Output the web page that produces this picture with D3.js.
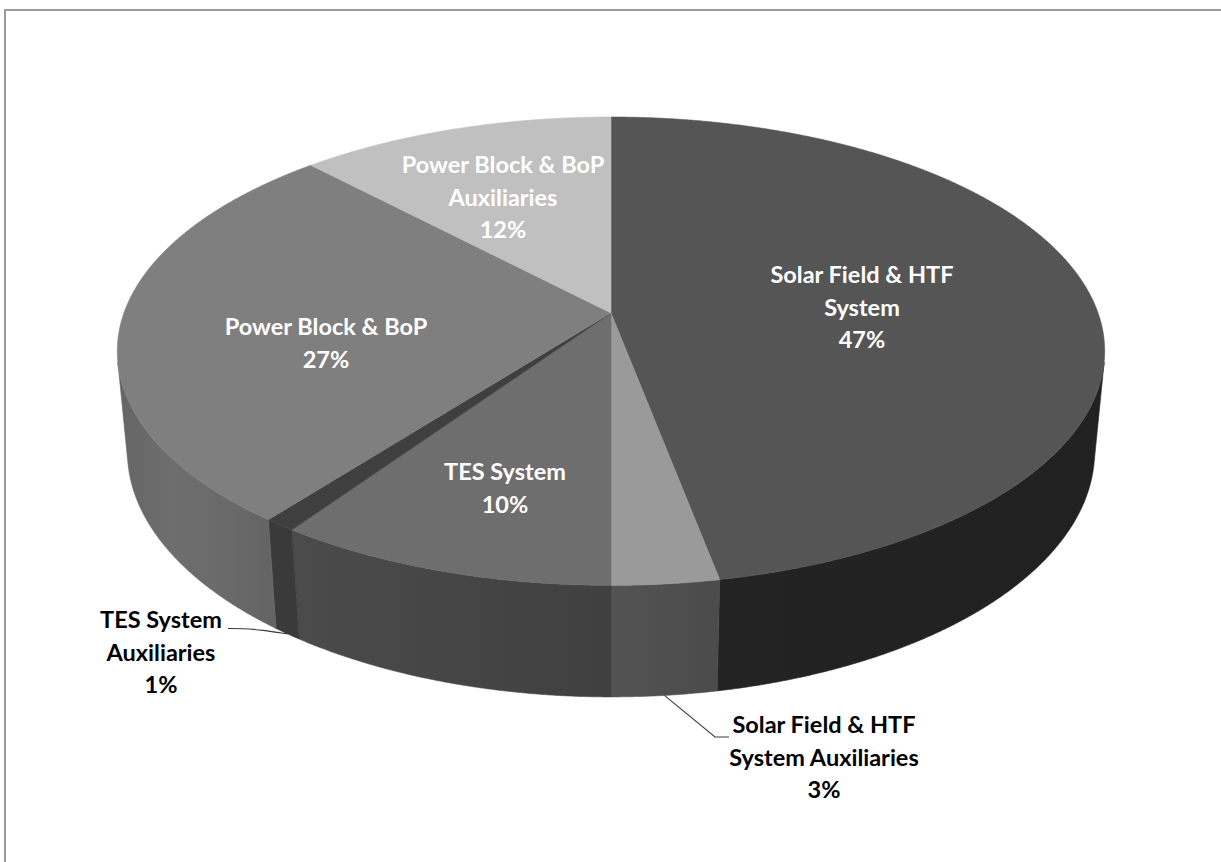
<!DOCTYPE html>
<html>
<head>
<meta charset="utf-8">
<script src="https://cdn.jsdelivr.net/npm/d3@7"></script>
<style>
  html, body { margin: 0; padding: 0; background: #fff; }
  svg { display: block; }
</style>
</head>
<body>
<script>
// ---------- data ----------
const categories = [
  "Solar Field & HTF System",
  "Solar Field & HTF System Auxiliaries",
  "TES System",
  "TES System Auxiliaries",
  "Power Block & BoP",
  "Power Block & BoP Auxiliaries"
];
const shares = [47.0, 3.0, 9.6, 0.9, 27.4, 12.1];
const percentLabels = ["47%", "3%", "10%", "1%", "27%", "12%"];
const labelLines = [
  ["Solar Field & HTF", "System"],
  ["Solar Field & HTF", "System Auxiliaries"],
  ["TES System"],
  ["TES System", "Auxiliaries"],
  ["Power Block & BoP"],
  ["Power Block & BoP", "Auxiliaries"]
];

// ---------- styles / layout ----------
const topColors = ["#555555", "#9a9a9a", "#6e6e6e", "#3f3f3f", "#7f7f7f", "#c0c0c0"];
const wallStops = [
  ["#232323", "#212121"],
  ["#535353", "#4b4b4b"],
  ["#4b4b4b", "#404040"],
  ["#3a3a3a", "#3a3a3a"],
  ["#656565", "#6e6e6e", "#6a6a6a", "#636363"],
  ["#8a8a8a", "#8a8a8a"]
];
const labelInside = [true, false, true, false, true, true];
// label first-line centre positions (layout)
const labelPos = [
  [862, 275], [824, 725], [505, 472], [161, 620], [326, 327], [503, 165]
];
const lineGap = 32.5;

const W = 1221, H = 862;
const svg = d3.select("body").append("svg").attr("width", W).attr("height", H);
const defs = svg.append("defs");

// frame (only top and left visible in the reference)
svg.append("rect").attr("x", 5).attr("y", 10).attr("width", 1240).attr("height", 900)
  .attr("fill", "none").attr("stroke", "#9a9a9a").attr("stroke-width", 2);

// ---------- 3D perspective projection ----------
const cam = { cx: 611, cy: 313, F: 2640, D: 5.42, sinE: 0.468, depth: 0.235 };
cam.cosE = Math.sqrt(1 - cam.sinE * cam.sinE);
function project(theta, r, level) {
  const X = r * Math.sin(theta), Z = -r * Math.cos(theta), Y = level;
  const dz = cam.D - Y * cam.sinE - Z * cam.cosE;
  return [cam.cx + cam.F * X / dz, cam.cy + cam.F * (Z * cam.sinE - Y * cam.cosE) / dz];
}

const pie = d3.pie().sort(null).value(d => d).startAngle(0).endAngle(2 * Math.PI);
const arcs = pie(shares);
const line = d3.line();
const step = Math.PI / 720;
function range(a0, a1) {
  const n = Math.max(2, Math.ceil((a1 - a0) / step));
  return d3.range(n + 1).map(i => a0 + (a1 - a0) * i / n);
}

// visible part of the outer wall
const zc = 1 / (cam.D * cam.cosE);
const visA0 = Math.acos(-zc), visA1 = 2 * Math.PI - Math.acos(-zc);

const wallG = svg.append("g");
arcs.forEach((a, i) => {
  const a0 = Math.max(a.startAngle, visA0), a1 = Math.min(a.endAngle, visA1);
  if (a1 <= a0) return;
  const angs = range(a0, a1);
  const topPts = angs.map(t => project(t, 1, 0));
  const botPts = angs.map(t => project(t, 1, -cam.depth)).reverse();
  const pts = topPts.concat(botPts);
  const xs = pts.map(p => p[0]);
  const gid = "wall" + i;
  const grad = defs.append("linearGradient").attr("id", gid)
    .attr("gradientUnits", "userSpaceOnUse")
    .attr("x1", d3.min(xs)).attr("x2", d3.max(xs)).attr("y1", 0).attr("y2", 0);
  const stops = wallStops[i];
  stops.forEach((c, j) => grad.append("stop")
    .attr("offset", j / (stops.length - 1)).attr("stop-color", c));
  wallG.append("path").attr("d", line(pts) + "Z")
    .attr("fill", `url(#${gid})`).attr("stroke", `url(#${gid})`).attr("stroke-width", 0.6);
});

// top faces
const topG = svg.append("g");
arcs.forEach((a, i) => {
  const pts = [project(0, 0, 0)].concat(range(a.startAngle, a.endAngle).map(t => project(t, 1, 0)));
  topG.append("path").attr("d", line(pts) + "Z")
    .attr("fill", topColors[i]).attr("stroke", topColors[i]).attr("stroke-width", 0.6);
});

// ---------- leader lines ----------
const leaderG = svg.append("g").attr("fill", "none").attr("stroke", "#3a3a3a").attr("stroke-width", 1.1);
{
  const a = arcs[3], m = (a.startAngle + a.endAngle) / 2;
  const p = project(m, 1, -cam.depth);
  leaderG.append("path").attr("d", d3.line().curve(d3.curveBasis)([[228, 628.5], [243, 628.5], [262, 630], p]));
}
{
  const a = arcs[1], m = (a.startAngle + a.endAngle) / 2;
  const p = project(m, 1, -cam.depth);
  leaderG.append("path").attr("d", line([p, [715, 737], [729, 737]]));
}

// ---------- labels ----------
const labelG = svg.append("g")
  .attr("font-family", "Lato, 'Open Sans', sans-serif")
  .attr("font-weight", "bold")
  .attr("font-size", 23.5)
  .attr("text-anchor", "middle");
arcs.forEach((a, i) => {
  const lines = labelLines[i].concat([percentLabels[i]]);
  const t = labelG.append("text")
    .attr("fill", labelInside[i] ? "#ffffff" : "#000000");
  lines.forEach((s, j) => {
    t.append("tspan").attr("x", labelPos[i][0]).attr("y", labelPos[i][1] + j * lineGap)
      .attr("dy", "0.35em").text(s);
  });
});
</script>
</body>
</html>
